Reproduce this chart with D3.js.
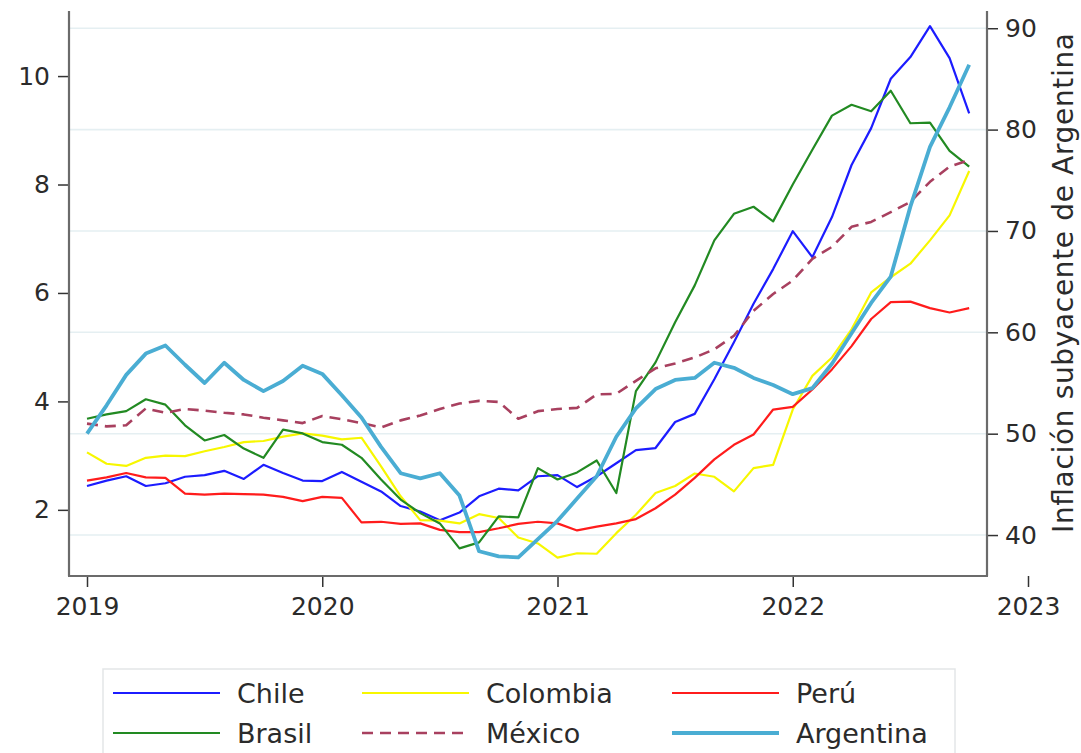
<!DOCTYPE html>
<html>
<head>
<meta charset="utf-8">
<script src="https://cdn.jsdelivr.net/npm/d3@7"></script>
<style>
  html, body { margin: 0; padding: 0; background: #ffffff; }
  svg { display: block; font-family: "DejaVu Sans", "Open Sans", sans-serif; }
</style>
</head>
<body>
<svg id="chart" width="1081" height="753"></svg>
<script>
// Monthly observations, Jan 2019 .. Oct 2022 (index = months since Jan 2019)
const months = [
  "2019-01","2019-02","2019-03","2019-04","2019-05","2019-06","2019-07","2019-08","2019-09","2019-10","2019-11","2019-12",
  "2020-01","2020-02","2020-03","2020-04","2020-05","2020-06","2020-07","2020-08","2020-09","2020-10","2020-11","2020-12",
  "2021-01","2021-02","2021-03","2021-04","2021-05","2021-06","2021-07","2021-08","2021-09","2021-10","2021-11","2021-12",
  "2022-01","2022-02","2022-03","2022-04","2022-05","2022-06","2022-07","2022-08","2022-09","2022-10"
];

const chile = [2.44,2.54,2.62,2.44,2.49,2.61,2.64,2.72,2.57,2.83,2.68,2.54,
  2.53,2.70,2.52,2.34,2.07,1.97,1.81,1.95,2.25,2.39,2.36,2.62,
  2.64,2.42,2.62,2.86,3.10,3.14,3.62,3.77,4.41,5.09,5.80,6.44,
  7.14,6.66,7.40,8.36,9.04,9.95,10.35,10.92,10.33,9.31];

const colombia = [3.06,2.85,2.81,2.96,3.00,2.99,3.08,3.16,3.25,3.27,3.35,3.41,
  3.37,3.30,3.33,2.80,2.25,1.81,1.80,1.75,1.92,1.85,1.49,1.38,
  1.12,1.20,1.19,1.57,1.91,2.31,2.44,2.67,2.61,2.34,2.77,2.83,
  3.85,4.47,4.81,5.33,6.01,6.29,6.54,6.97,7.43,8.25];

const peru = [2.54,2.60,2.68,2.60,2.59,2.30,2.28,2.30,2.29,2.28,2.24,2.16,
  2.24,2.22,1.77,1.78,1.74,1.75,1.63,1.59,1.59,1.66,1.74,1.78,
  1.75,1.62,1.69,1.75,1.83,2.03,2.28,2.59,2.93,3.20,3.39,3.85,
  3.90,4.22,4.59,5.02,5.52,5.83,5.84,5.72,5.64,5.72];

const brasil = [3.68,3.76,3.82,4.04,3.94,3.56,3.28,3.38,3.13,2.96,3.48,3.41,
  3.25,3.20,2.96,2.56,2.19,1.94,1.75,1.29,1.40,1.88,1.86,2.77,
  2.56,2.69,2.91,2.31,4.19,4.72,5.46,6.14,6.97,7.46,7.59,7.32,
  8.00,8.64,9.27,9.47,9.35,9.73,9.13,9.14,8.62,8.33];

const mexico = [3.59,3.54,3.56,3.87,3.79,3.86,3.83,3.79,3.76,3.70,3.65,3.60,
  3.73,3.67,3.60,3.52,3.65,3.74,3.86,3.96,4.01,3.99,3.68,3.82,
  3.86,3.88,4.13,4.14,4.38,4.61,4.70,4.81,4.96,5.21,5.67,5.98,
  6.23,6.63,6.85,7.22,7.31,7.49,7.68,8.05,8.33,8.45];

// Argentina on the right axis
const argentina = [50.0,52.8,55.8,57.9,58.7,56.8,55.0,57.0,55.3,54.2,55.2,56.7,
  55.9,53.8,51.6,48.7,46.1,45.6,46.1,43.9,38.4,37.9,37.8,39.6,
  41.4,43.6,45.8,49.7,52.5,54.4,55.3,55.5,57.0,56.5,55.5,54.8,
  53.9,54.5,56.9,59.9,62.9,65.5,72.4,78.3,82.2,86.4];

const xTicks = [2019, 2020, 2021, 2022, 2023];
const leftTicks = [2, 4, 6, 8, 10];
const rightTicks = [40, 50, 60, 70, 80, 90];
const rightTitle = "Inflación subyacente de Argentina";

const seriesNames = ["Chile", "Colombia", "Perú", "Brasil", "México", "Argentina"];
const seriesData = [chile, colombia, peru, brasil, mexico, argentina];
const seriesAxis = ["left", "left", "left", "left", "left", "right"];
const seriesColors = ["#1c1cff", "#f7f700", "#ff1c1c", "#228a22", "#a8405f", "#4aadd3"];
const seriesWidths = [2.2, 2.2, 2.2, 2.2, 2.6, 3.8];
const seriesDash = [null, null, null, null, "11,7", null];

// ---------- layout ----------
const svg = d3.select("#chart");
const plotLeft = 69, plotRight = 987, plotTop = 11, plotBottom = 576;

const monthValue = m => { const [y, mo] = m.split("-").map(Number); return y + (mo - 1) / 12; };

const x = d3.scaleLinear().domain([2019, 2023]).range([87, 1028]);
const yL = d3.scaleLinear().domain([0.78, 11.2]).range([plotBottom, plotTop]);
const yR = d3.scaleLinear().domain([35.96, 91.7]).range([plotBottom, plotTop]);

// gridlines (right-axis ticks)
svg.append("g").selectAll("line").data(rightTicks).join("line")
  .attr("x1", plotLeft).attr("x2", plotRight)
  .attr("y1", d => yR(d)).attr("y2", d => yR(d))
  .attr("stroke", "#e5eff2").attr("stroke-width", 1.6);

// series lines
const g = svg.append("g");
seriesData.forEach((vals, k) => {
  const ys = seriesAxis[k] === "left" ? yL : yR;
  const line = d3.line()
    .x((d, i) => x(monthValue(months[i])))
    .y(d => ys(d));
  g.append("path")
    .datum(vals)
    .attr("d", line)
    .attr("fill", "none")
    .attr("stroke", seriesColors[k])
    .attr("stroke-width", seriesWidths[k])
    .attr("stroke-linejoin", "round")
    .attr("stroke-dasharray", seriesDash[k]);
});

const axisColor = "#6b6b6b";
const textColor = "#2b2b2b";
const tickFont = "25px";

// left axis
const gl = svg.append("g").attr("transform", `translate(${plotLeft},0)`)
  .call(d3.axisLeft(yL).tickValues(leftTicks).tickSize(11).tickPadding(8).tickSizeOuter(0).tickFormat(d3.format("d")));
gl.select(".domain").remove();
gl.selectAll(".tick line").attr("stroke", "#333").attr("stroke-width", 1.5);
gl.selectAll(".tick text").attr("fill", textColor).style("font-size", tickFont).style("font-family", "'DejaVu Sans'");

// right axis
const gr = svg.append("g").attr("transform", `translate(${plotRight},0)`)
  .call(d3.axisRight(yR).tickValues(rightTicks).tickSize(11).tickPadding(7).tickSizeOuter(0).tickFormat(d3.format("d")));
gr.select(".domain").remove();
gr.selectAll(".tick line").attr("stroke", "#333").attr("stroke-width", 1.5);
gr.selectAll(".tick text").attr("fill", textColor).style("font-size", tickFont).style("font-family", "'DejaVu Sans'");

// bottom axis
const gb = svg.append("g").attr("transform", `translate(0,${plotBottom})`)
  .call(d3.axisBottom(x).tickValues(xTicks).tickSize(11).tickPadding(10).tickSizeOuter(0).tickFormat(d3.format("d")));
gb.select(".domain").remove();
gb.selectAll(".tick line").attr("stroke", "#333").attr("stroke-width", 1.5);
gb.selectAll(".tick text").attr("fill", textColor).style("font-size", tickFont).style("font-family", "'DejaVu Sans'");

// axis lines
svg.append("line").attr("x1", plotLeft).attr("x2", plotLeft).attr("y1", plotTop).attr("y2", plotBottom)
  .attr("stroke", axisColor).attr("stroke-width", 2.2);
svg.append("line").attr("x1", plotRight).attr("x2", plotRight).attr("y1", plotTop).attr("y2", plotBottom)
  .attr("stroke", axisColor).attr("stroke-width", 2.2);
svg.append("line").attr("x1", plotLeft - 1).attr("x2", plotRight + 1).attr("y1", plotBottom).attr("y2", plotBottom)
  .attr("stroke", axisColor).attr("stroke-width", 2.2);

// right axis title
svg.append("text")
  .attr("transform", `translate(1073,283) rotate(-90)`)
  .attr("text-anchor", "middle")
  .attr("fill", textColor)
  .style("font-size", "28px")
  .attr("textLength", 500)
  .attr("lengthAdjust", "spacing")
  .text(rightTitle);

// legend
const legend = svg.append("g");
legend.append("rect").attr("x", 103).attr("y", 669).attr("width", 852).attr("height", 100)
  .attr("fill", "#ffffff").attr("stroke", "#e3e6e8").attr("stroke-width", 1.5);
const colX = [113, 362, 672];
const rowY = [693, 733];
const legendOrder = [0, 1, 2, 3, 4, 5];
legendOrder.forEach((k, idx) => {
  const cx = colX[idx % 3], cy = rowY[Math.floor(idx / 3)];
  legend.append("line").attr("x1", cx).attr("x2", cx + 107).attr("y1", cy).attr("y2", cy)
    .attr("stroke", seriesColors[k]).attr("stroke-width", seriesWidths[k])
    .attr("stroke-dasharray", seriesDash[k]);
  legend.append("text").attr("x", cx + 124).attr("y", cy).attr("dy", "0.36em")
    .attr("fill", textColor).style("font-size", "27px").text(seriesNames[k]);
});
</script>
</body>
</html>
